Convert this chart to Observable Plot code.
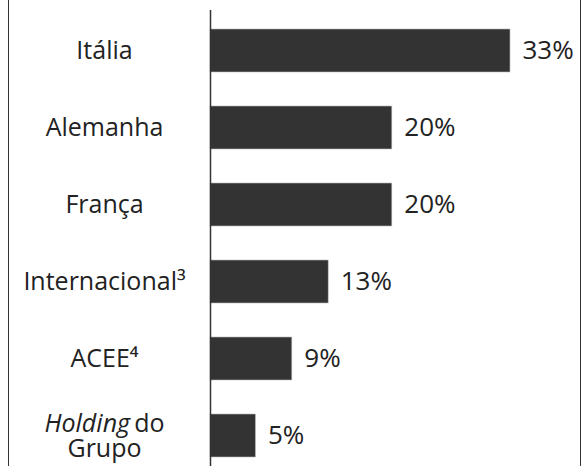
<!DOCTYPE html>
<html>
<head>
<meta charset="utf-8">
<script src="https://cdn.jsdelivr.net/npm/d3@7"></script>
<script src="https://cdn.jsdelivr.net/npm/@observablehq/plot@0.6"></script>
<style>
  html, body { margin: 0; padding: 0; background: #fff; }
  #wrap { position: relative; width: 583px; height: 466px; overflow: hidden; }
  #wrap .edge { position: absolute; top: 0; bottom: 0; width: 0; border-left: 1.5px solid #333; }
  #wrap svg { display: block; }
</style>
</head>
<body>
<div id="wrap">
  <div class="edge" style="left:7.5px"></div>
  <div class="edge" style="left:580px"></div>
</div>
<script>
const categories = ["Itália", "Alemanha", "França", "Internacional³", "ACEE⁴", "Holding do\nGrupo"];
const values = [33, 20, 20, 13, 9, 5];
const valueLabels = ["33%", "20%", "20%", "13%", "9%", "5%"];

const data = categories.map((c, i) => ({ cat: c, v: values[i], lab: valueLabels[i] }));

const font = "'Open Sans', sans-serif";

const chart = Plot.plot({
  width: 583,
  height: 466,
  marginLeft: 210,
  marginRight: 73,
  marginTop: 0,
  marginBottom: 0,
  style: { fontFamily: font, background: "transparent" },
  x: { domain: [0, 33], axis: null },
  y: { domain: categories, axis: null, paddingInner: 0.445, paddingOuter: 0.233, align: 0.75 },
  marks: [
    Plot.barX(data, { x: "v", y: "cat", fill: "#333333", stroke: "#bbbbbb", strokeWidth: 0.6 }),
    Plot.ruleX([0], { stroke: "#333", strokeWidth: 1.5, insetTop: 10 }),
    Plot.text(data, { x: "v", y: "cat", text: "lab", textAnchor: "start", dx: 12, fontSize: 26, fill: "#222" }),
    Plot.text(data, { y: "cat", text: "cat", frameAnchor: "left", textAnchor: "middle", dx: -106, fontSize: 25, fill: "#222", lineHeight: 1.0 })
  ]
});

// italicise "Holding"
chart.querySelectorAll("text tspan, text").forEach(el => {
  if (el.childNodes.length === 1 && el.childNodes[0].nodeType === 3 && el.textContent === "Holding do") {
    el.textContent = "";
    const it = document.createElementNS("http://www.w3.org/2000/svg", "tspan");
    it.setAttribute("font-style", "italic");
    it.textContent = "Holding";
    el.appendChild(it);
    el.appendChild(document.createTextNode("\u2009do"));
  }
});

document.getElementById("wrap").appendChild(chart);
</script>
</body>
</html>
